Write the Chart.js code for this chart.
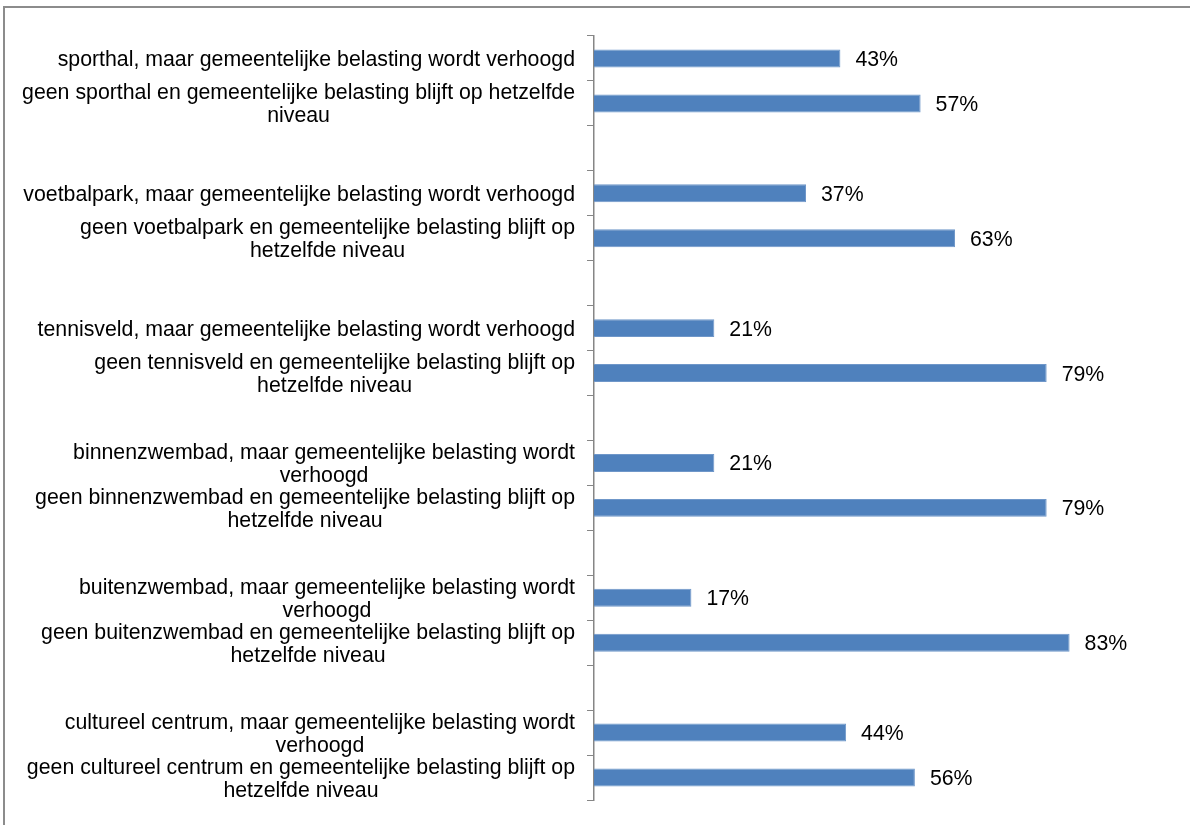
<!DOCTYPE html>
<html>
<head>
<meta charset="utf-8">
<script src="https://cdn.jsdelivr.net/npm/chart.js@4/dist/chart.umd.min.js"></script>
<style>
    html, body { margin: 0; padding: 0; background: #fff; overflow: hidden; }
    #wrap { position: relative; width: 1190px; height: 825px; }
    #frame {
        position: absolute; left: 3px; top: 6px;
        width: 1300px; height: 900px;
        border: 2px solid #8c8c8c;
        box-sizing: border-box;
    }
    canvas { position: absolute; left: 0; top: 0; }
</style>
</head>
<body>
<div id="wrap">
    <div id="frame"></div>
    <canvas id="chart" width="1190" height="825"></canvas>
</div>
<script>
// Categories (empty strings are the gaps between groups)
const categories = [
    'sporthal, maar gemeentelijke belasting wordt verhoogd',
    ['geen sporthal en gemeentelijke belasting blijft op hetzelfde', 'niveau'],
    '',
    'voetbalpark, maar gemeentelijke belasting wordt verhoogd',
    ['geen voetbalpark en gemeentelijke belasting blijft op', 'hetzelfde niveau'],
    '',
    'tennisveld, maar gemeentelijke belasting wordt verhoogd',
    ['geen tennisveld en gemeentelijke belasting blijft op', 'hetzelfde niveau'],
    '',
    ['binnenzwembad, maar gemeentelijke belasting wordt', 'verhoogd'],
    ['geen binnenzwembad en gemeentelijke belasting blijft op', 'hetzelfde niveau'],
    '',
    ['buitenzwembad, maar gemeentelijke belasting wordt', 'verhoogd'],
    ['geen buitenzwembad en gemeentelijke belasting blijft op', 'hetzelfde niveau'],
    '',
    ['cultureel centrum, maar gemeentelijke belasting wordt', 'verhoogd'],
    ['geen cultureel centrum en gemeentelijke belasting blijft op', 'hetzelfde niveau']
];

// Percentages per category (null = gap)
const percentages = [43, 57, null, 37, 63, null, 21, 79, null, 21, 79, null, 17, 83, null, 44, 56];

const FONT = '"Liberation Sans", Arial, sans-serif';
const FONT_SIZE = 21.3;
const LINE_HEIGHT = 23;
const BASELINE_SHIFT = 7.5;

// Category labels: block right-aligned to the axis, lines centered inside the block
const categoryLabels = {
    id: 'categoryLabels',
    afterDraw(chart) {
        const ctx = chart.ctx;
        const yScale = chart.scales.y;
        const rightX = chart.chartArea.left - 19;
        ctx.save();
        ctx.font = FONT_SIZE + 'px ' + FONT;
        ctx.fillStyle = '#000';
        ctx.textAlign = 'center';
        ctx.textBaseline = 'alphabetic';
        chart.data.labels.forEach((label, i) => {
            const lines = Array.isArray(label) ? label : [label];
            if (!lines[0]) return;
            const widest = Math.max(...lines.map(l => ctx.measureText(l).width));
            const cx = rightX - widest / 2;
            const yc = yScale.getPixelForValue(i);
            const y0 = yc + BASELINE_SHIFT - (lines.length - 1) * LINE_HEIGHT / 2;
            lines.forEach((line, k) => ctx.fillText(line, cx, y0 + k * LINE_HEIGHT));
        });
        ctx.restore();
    }
};

// Value labels to the right of each bar
const valueLabels = {
    id: 'valueLabels',
    afterDatasetsDraw(chart) {
        const ctx = chart.ctx;
        const meta = chart.getDatasetMeta(0);
        ctx.save();
        ctx.font = FONT_SIZE + 'px ' + FONT;
        ctx.fillStyle = '#000';
        ctx.textAlign = 'left';
        ctx.textBaseline = 'alphabetic';
        meta.data.forEach((bar, i) => {
            const v = chart.data.datasets[0].data[i];
            if (v === null) return;
            ctx.fillText(v + '%', bar.x + 15, bar.y + BASELINE_SHIFT);
        });
        ctx.restore();
    }
};

const ctx = document.getElementById('chart').getContext('2d');
new Chart(ctx, {
    type: 'bar',
    data: {
        labels: categories,
        datasets: [{
            data: percentages,
            backgroundColor: '#4f81bd',
            borderColor: '#6f97c9',
            borderWidth: 1,
            borderSkipped: 'left',
            categoryPercentage: 1,
            barPercentage: 0.4
        }]
    },
    options: {
        indexAxis: 'y',
        responsive: false,
        animation: false,
        layout: { padding: { left: 0, top: 36, right: 23, bottom: 25 } },
        plugins: {
            legend: { display: false },
            tooltip: { enabled: false }
        },
        scales: {
            x: {
                display: false,
                min: 0,
                max: 100
            },
            y: {
                type: 'category',
                offset: true,
                afterFit(scale) { scale.width = 594; },
                grid: {
                    display: true,
                    offset: true,
                    drawOnChartArea: false,
                    drawTicks: true,
                    tickLength: 7,
                    color: '#868686',
                    lineWidth: 1
                },
                border: { display: true, color: '#868686', width: 1.5 },
                ticks: { display: false }
            }
        }
    },
    plugins: [categoryLabels, valueLabels]
});
</script>
</body>
</html>
